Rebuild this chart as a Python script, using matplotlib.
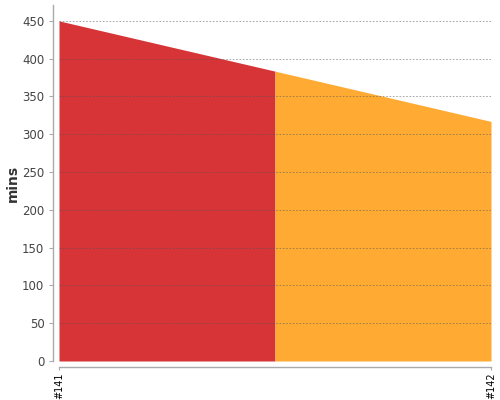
import numpy as np
import matplotlib
matplotlib.use("Agg")
from matplotlib import pyplot as plt

builds = ["#141", "#142"]
durations = [450, 317]
colors = ["#D63437", "#FFAB33"]
yticks = [0, 50, 100, 150, 200, 250, 300, 350, 400, 450]

fig = plt.figure(figsize=(5, 4), dpi=100)
ax = fig.add_axes([59 / 500, 1 - 361 / 400, 432 / 500, 356 / 400])

x = np.arange(len(builds))
mid = (durations[0] + durations[1]) / 2.0
# left half belongs to first build, right half to second
ax.fill_between([x[0], 0.5], [durations[0], mid], 0, color=colors[0], lw=0)
ax.fill_between([0.5, x[1]], [mid, durations[1]], 0, color=colors[1], lw=0)

ax.set_xlim(0, 1)
ax.set_ylim(0, 471)
ax.set_yticks(yticks)
ax.set_xticks(x)
ax.set_xticklabels(builds)
ax.tick_params(axis="y", labelsize=8.5, labelcolor="#444444", color="#aaaaaa", length=3, width=0.8)
ax.tick_params(axis="x", color="#aaaaaa", length=2, width=0.8, pad=2,
               labelsize=7, labelcolor="black", labelrotation=90)
for lab in ax.get_xticklabels():
    lab.set_ha("center")
    lab.set_va("top")

ax.set_axisbelow(False)
ax.yaxis.grid(True, color="#555555", alpha=0.6, linestyle=(0, (2, 2)), linewidth=0.6)

for s in ["top", "right"]:
    ax.spines[s].set_visible(False)
for s in ["left", "bottom"]:
    ax.spines[s].set_position(("outward", 4))
    ax.spines[s].set_color("#aaaaaa")
    ax.spines[s].set_linewidth(1)

ax.set_ylabel("mins", fontsize=10, color="#333333", fontweight="bold")
ax.yaxis.set_label_coords(-0.09, 0.5)

fig.savefig("out.png", dpi=100)
